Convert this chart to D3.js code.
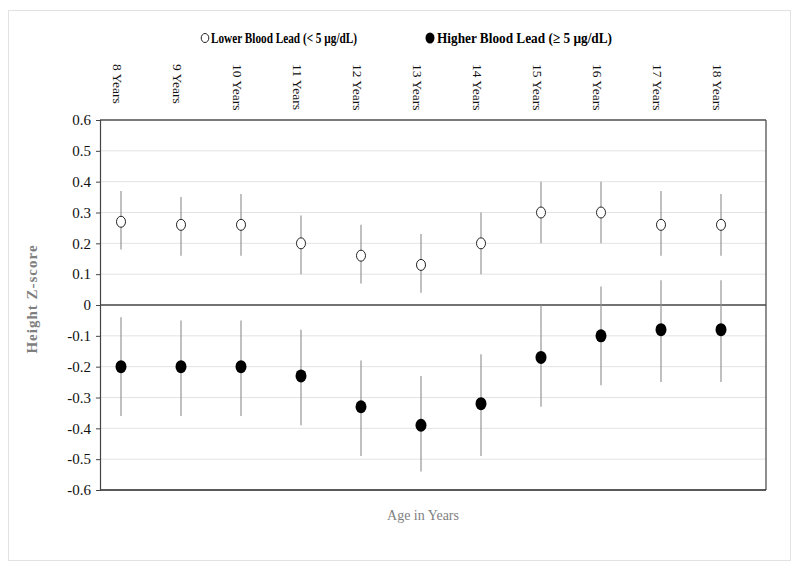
<!doctype html>
<html>
  <head>
    <meta charset="utf-8">
    <script src="https://cdnjs.cloudflare.com/ajax/libs/d3/7.8.5/d3.min.js"></script>
    <style>
      body { margin: 0; background: #fff; }
      svg { font-family: "Liberation Serif", "DejaVu Serif", serif; }
    </style>
  </head>
  <body>
    <svg></svg>
    <script>
      var width = 800,
          height = 570;

      // ages and tick labels
      var ages = [8, 9, 10, 11, 12, 13, 14, 15, 16, 17, 18];
      var ageLabels = ["8 Years", "9 Years", "10 Years", "11 Years", "12 Years", "13 Years",
                       "14 Years", "15 Years", "16 Years", "17 Years", "18 Years"];
      var yTicks = [0.6, 0.5, 0.4, 0.3, 0.2, 0.1, 0, -0.1, -0.2, -0.3, -0.4, -0.5, -0.6];

      // lower blood lead (< 5 ug/dL): estimate, lower CI, upper CI
      var lowEst = [0.27, 0.26, 0.26, 0.20, 0.16, 0.13, 0.20, 0.30, 0.30, 0.26, 0.26];
      var lowLo  = [0.18, 0.16, 0.16, 0.10, 0.07, 0.04, 0.10, 0.20, 0.20, 0.16, 0.16];
      var lowHi  = [0.37, 0.35, 0.36, 0.29, 0.26, 0.23, 0.30, 0.40, 0.40, 0.37, 0.36];

      // higher blood lead (>= 5 ug/dL)
      var highEst = [-0.20, -0.20, -0.20, -0.23, -0.33, -0.39, -0.32, -0.17, -0.10, -0.08, -0.08];
      var highLo  = [-0.36, -0.36, -0.36, -0.39, -0.49, -0.54, -0.49, -0.33, -0.26, -0.25, -0.25];
      var highHi  = [-0.04, -0.05, -0.05, -0.08, -0.18, -0.23, -0.16, 0.00, 0.06, 0.08, 0.08];

      var svg = d3.select("svg").attr("width", width).attr("height", height);

      // outer frame
      svg.append("rect")
        .attr("x", 8.5).attr("y", 10.5)
        .attr("width", 782).attr("height", 550)
        .attr("fill", "none")
        .attr("stroke", "#e2e2e2");

      var pLeft = 100, pRight = 766, pTop = 120, pBottom = 490;

      var x = d3.scaleLinear().domain([7.65, 18.75]).range([pLeft, pRight]);
      var y = d3.scaleLinear().domain([-0.6, 0.6]).range([pBottom, pTop]);

      // gridlines
      svg.append("g").selectAll("line")
        .data(yTicks.filter(function(d){ return d !== 0 && Math.abs(d) !== 0.6; }))
        .enter().append("line")
          .attr("x1", pLeft).attr("x2", pRight)
          .attr("y1", function(d){ return y(d); })
          .attr("y2", function(d){ return y(d); })
          .attr("stroke", "#e3e3e3")
          .attr("stroke-width", 1);

      // frame of the plot
      svg.append("line").attr("x1", pLeft).attr("x2", pRight)
        .attr("y1", pTop).attr("y2", pTop)
        .attr("stroke", "#7a7a7a").attr("stroke-width", 2);
      svg.append("line").attr("x1", pRight).attr("x2", pRight)
        .attr("y1", pTop).attr("y2", pBottom)
        .attr("stroke", "#444").attr("stroke-width", 1.2);
      svg.append("line").attr("x1", pLeft).attr("x2", pRight)
        .attr("y1", pBottom).attr("y2", pBottom)
        .attr("stroke", "#222").attr("stroke-width", 1.3);
      svg.append("line").attr("x1", pLeft).attr("x2", pRight)
        .attr("y1", y(0)).attr("y2", y(0))
        .attr("stroke", "#444").attr("stroke-width", 1.5);

      // y axis
      var yAxis = d3.axisLeft(y).tickValues(yTicks).tickSize(4).tickPadding(5)
        .tickFormat(function(d){ return d === 0 ? "0" : d3.format(".1f")(d).replace("\u2212", "-"); });
      var gy = svg.append("g").attr("transform", "translate(" + pLeft + ",0)").call(yAxis);
      gy.select(".domain").attr("stroke", "#444").attr("stroke-width", 1.2);
      gy.selectAll(".tick line").attr("stroke", "#444");
      gy.selectAll("text")
        .attr("font-family", "Liberation Serif, serif")
        .attr("font-size", 15)
        .attr("fill", "#111");

      // x category labels on top, rotated
      svg.append("g").selectAll("text")
        .data(ages)
        .enter().append("text")
          .attr("transform", function(d){ return "translate(" + (x(d) - 4) + ",64) rotate(90)"; })
          .attr("dy", "0.32em")
          .attr("font-size", 13.5)
          .attr("fill", "#111")
          .text(function(d, i){ return ageLabels[i]; });

      // error bars
      function bars(lo, hi) {
        svg.append("g").selectAll("line")
          .data(ages)
          .enter().append("line")
            .attr("x1", function(d){ return x(d); })
            .attr("x2", function(d){ return x(d); })
            .attr("y1", function(d, i){ return y(lo[i]); })
            .attr("y2", function(d, i){ return y(hi[i]); })
            .attr("stroke", "#8c8c8c")
            .attr("stroke-width", 1.1);
      }
      bars(lowLo, lowHi);
      bars(highLo, highHi);

      // markers
      svg.append("g").selectAll("ellipse")
        .data(ages)
        .enter().append("ellipse")
          .attr("cx", function(d){ return x(d); })
          .attr("cy", function(d, i){ return y(lowEst[i]); })
          .attr("rx", 4.5).attr("ry", 5.5)
          .attr("fill", "#fff")
          .attr("stroke", "#222")
          .attr("stroke-width", 1);

      svg.append("g").selectAll("ellipse")
        .data(ages)
        .enter().append("ellipse")
          .attr("cx", function(d){ return x(d); })
          .attr("cy", function(d, i){ return y(highEst[i]); })
          .attr("rx", 5.5).attr("ry", 6.5)
          .attr("fill", "#000");

      // legend
      var legend = svg.append("g").attr("font-weight", "bold").attr("font-size", 15);
      legend.append("ellipse").attr("cx", 205).attr("cy", 38).attr("rx", 3.8).attr("ry", 4.5)
        .attr("fill", "#fff").attr("stroke", "#222").attr("stroke-width", 1);
      legend.append("text").attr("x", 211).attr("y", 43)
        .attr("textLength", 146).attr("lengthAdjust", "spacingAndGlyphs")
        .text("Lower Blood Lead (< 5 \u00b5g/dL)");
      legend.append("ellipse").attr("cx", 430).attr("cy", 38).attr("rx", 4.5).attr("ry", 5.5)
        .attr("fill", "#000");
      legend.append("text").attr("x", 437).attr("y", 43)
        .attr("textLength", 175).attr("lengthAdjust", "spacingAndGlyphs")
        .text("Higher Blood Lead (\u2265 5 \u00b5g/dL)");

      // axis titles
      svg.append("text")
        .attr("transform", "translate(37,299) rotate(-90)")
        .attr("text-anchor", "middle")
        .attr("font-weight", "bold")
        .attr("font-size", 15)
        .attr("letter-spacing", 1)
        .attr("fill", "#7f7f7f")
        .text("Height Z-score");

      svg.append("text")
        .attr("x", 423).attr("y", 520)
        .attr("text-anchor", "middle")
        .attr("font-size", 14)
        .attr("fill", "#7f7f7f")
        .text("Age in Years");
    </script>
  </body>
</html>
